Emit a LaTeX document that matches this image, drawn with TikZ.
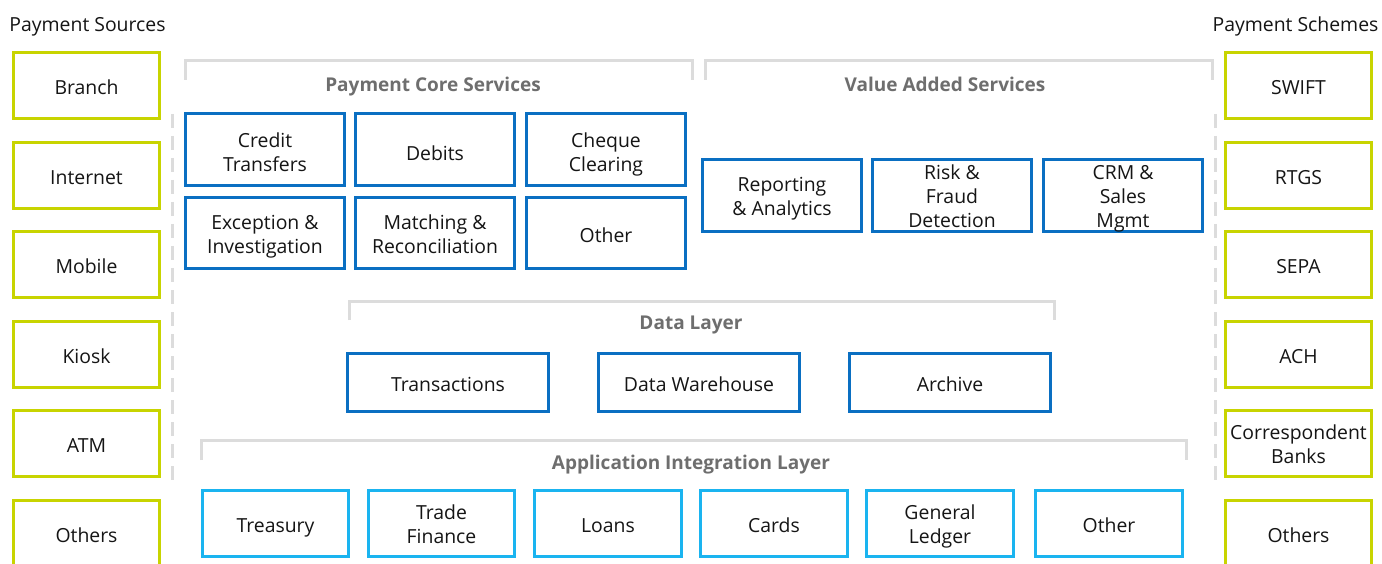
\documentclass[tikz,border=0pt]{standalone}
\usepackage{fontspec}
\setmainfont{Open Sans}
\definecolor{srcgreen}{HTML}{C8D400}
\definecolor{coreblue}{HTML}{0A6FC2}
\definecolor{appblue}{HTML}{1AB4F0}
\definecolor{rule}{HTML}{DCDCDC}
\definecolor{heading}{HTML}{6E6E6E}
\definecolor{ink}{HTML}{151515}
% vertical offset of box captions
\def\capshift{-4.5pt}
% box from corner coordinates: name, style, x1, y1, x2, y2, caption
\newcommand\bx[7]{%
  \node[#2, minimum width={#5-#3-3}, minimum height={#6-#4-3}] (#1) at ({(#3+#5)/2},{(#4+#6)/2}) {};
  \node[yshift=\capshift] (#1-txt) at (#1.center) {#7};}
\begin{document}
\begin{tikzpicture}[x=1pt,y=-1pt,
  every node/.style={font=\fontsize{19.4}{24}\selectfont, text=ink, align=center, inner sep=0pt,
    execute at begin node=\strut, execute at end node=\strut},
  srcbox/.style={draw=srcgreen, line width=3pt},
  corebox/.style={draw=coreblue, line width=2.6pt},
  appbox/.style={draw=appblue, line width=2.6pt},
  bracket/.style={draw=rule, line width=3pt},
  sepline/.style={draw=rule, line width=3pt, dash pattern=on 14pt off 8pt},
  layertitle/.style={font=\fontsize{19}{24}\selectfont\bfseries, text=heading}]
\useasboundingbox[fill=white] (0,0) rectangle (1382,564);

% column headings
\node (srchead) at (87.5,27) {Payment Sources};
\node (schhead) at (1295.5,27) {Payment Schemes};

% payment sources
\bx{branch}{srcbox}{12}{51}{161}{120}{Branch}
\bx{internet}{srcbox}{12}{141}{161}{210}{Internet}
\bx{mobile}{srcbox}{12}{230}{161}{299}{Mobile}
\bx{kiosk}{srcbox}{12}{320}{161}{389}{Kiosk}
\bx{atm}{srcbox}{12}{409}{161}{478}{ATM}
\bx{srcothers}{srcbox}{12}{499}{161}{568}{Others}

% payment schemes
\bx{swift}{srcbox}{1224}{51}{1373}{120}{SWIFT}
\bx{rtgs}{srcbox}{1224}{141}{1373}{210}{RTGS}
\bx{sepa}{srcbox}{1224}{230}{1373}{299}{SEPA}
\bx{ach}{srcbox}{1224}{320}{1373}{389}{ACH}
\bx{corr}{srcbox}{1224}{409}{1373}{478}{Correspondent\\Banks}
\bx{schothers}{srcbox}{1224}{499}{1373}{568}{Others}

% dashed separators
\draw[sepline] (172,114) -- (172,481);
\draw[sepline] (1215,114) -- (1215,481);

% payment core services
\draw[bracket] (185,80) |- (692,61) -- (692,80);
\node[layertitle] (coretitle) at (433,87) {Payment Core Services};
\begin{scope}
\def\capshift{-6pt}
\bx{credit}{corebox}{184}{112}{346}{187}{Credit\\Transfers}
\bx{debits}{corebox}{354}{112}{516}{187}{Debits}
\bx{cheque}{corebox}{525}{112}{687}{187}{Cheque\\Clearing}
\end{scope}
\bx{exception}{corebox}{184}{196}{346}{270}{Exception \&\\Investigation}
\bx{matching}{corebox}{354}{196}{516}{270}{Matching \&\\Reconciliation}
\bx{coreother}{corebox}{525}{196}{687}{270}{Other}

% value added services
\draw[bracket] (705,80) |- (1212,61) -- (1212,80);
\node[layertitle] (vastitle) at (945,87) {Value Added Services};
\bx{reporting}{corebox}{701}{158}{863}{233}{Reporting\\\& Analytics}
\bx{risk}{corebox}{871}{158}{1033}{233}{Risk \&\\Fraud\\Detection}
\bx{crm}{corebox}{1042}{158}{1204}{233}{CRM \&\\Sales\\Mgmt}

% data layer
\draw[bracket] (349,320) |- (1054,301) -- (1054,320);
\node[layertitle] (datatitle) at (691,325) {Data Layer};
\bx{transactions}{corebox}{346}{352}{550}{413}{Transactions}
\bx{warehouse}{corebox}{597}{352}{801}{413}{Data Warehouse}
\bx{archive}{corebox}{848}{352}{1052}{413}{Archive}

% application integration layer
\draw[bracket] (201,460) |- (1186,440) -- (1186,460);
\node[layertitle] (apptitle) at (691,465) {Application Integration Layer};
\bx{treasury}{appbox}{201}{489}{350}{558}{Treasury}
\bx{trade}{appbox}{367}{489}{516}{558}{Trade\\Finance}
\bx{loans}{appbox}{533}{489}{683}{558}{Loans}
\bx{cards}{appbox}{699}{489}{849}{558}{Cards}
\bx{ledger}{appbox}{865}{489}{1015}{558}{General\\Ledger}
\bx{appother}{appbox}{1034}{489}{1184}{558}{Other}
\end{tikzpicture}
\end{document}
